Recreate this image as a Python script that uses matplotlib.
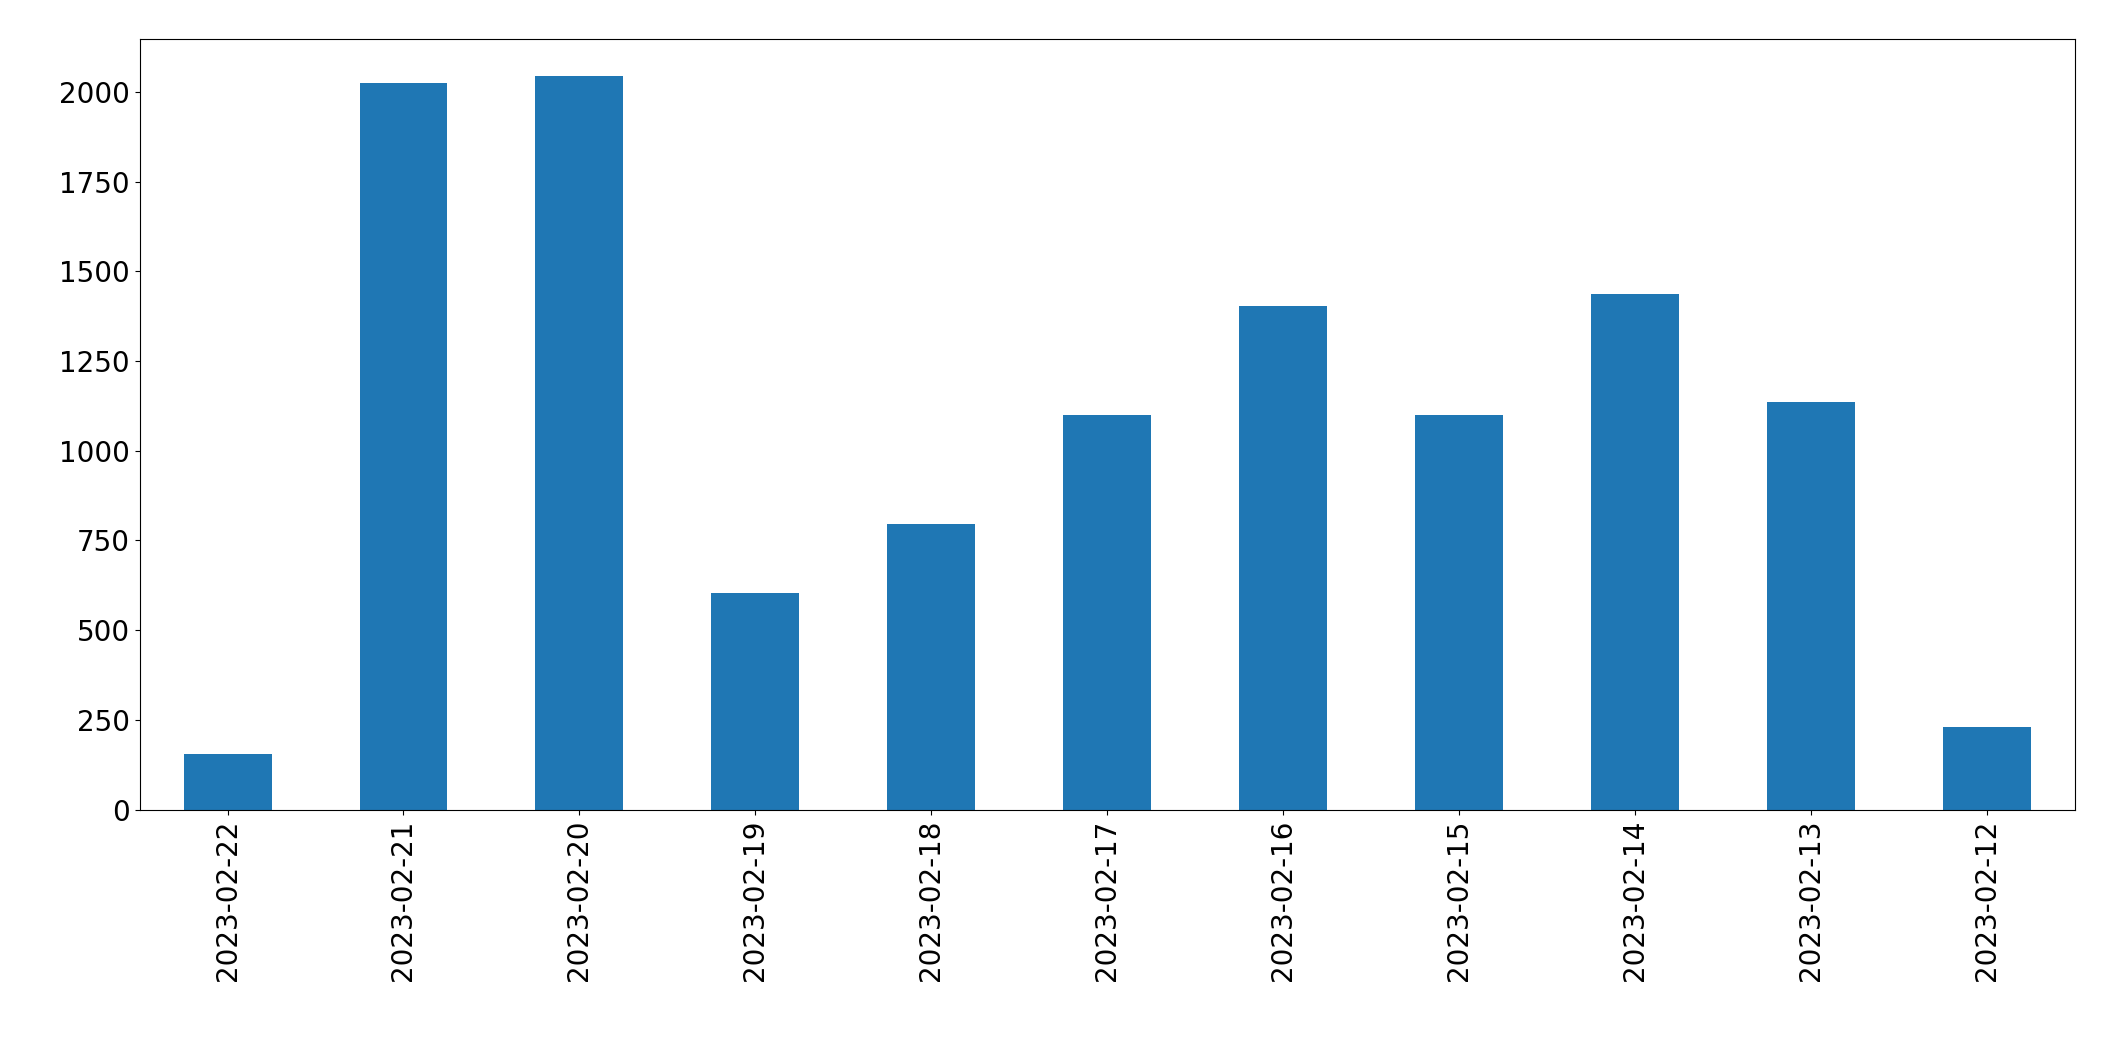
import matplotlib
matplotlib.use("Agg")
import matplotlib.pyplot as plt

dates = ["2023-02-22","2023-02-21","2023-02-20","2023-02-19","2023-02-18","2023-02-17",
         "2023-02-16","2023-02-15","2023-02-14","2023-02-13","2023-02-12"]
values = [154, 2026, 2045, 603, 795, 1100, 1405, 1100, 1437, 1137, 230]

fig = plt.figure(figsize=(21.15, 10.61), dpi=100)
ax = fig.add_axes([0.066, 0.237, 0.915, 0.726])
x = range(len(dates))
ax.bar(x, values, width=0.5, color="#1f77b4")
ax.set_xticks(list(x))
ax.set_xticklabels(dates, rotation=90)
ax.set_xlim(-0.5, len(dates) - 0.5)
ax.set_yticks(range(0, 2001, 250))
ax.tick_params(labelsize=20)
fig.savefig("out.png", dpi=100)
